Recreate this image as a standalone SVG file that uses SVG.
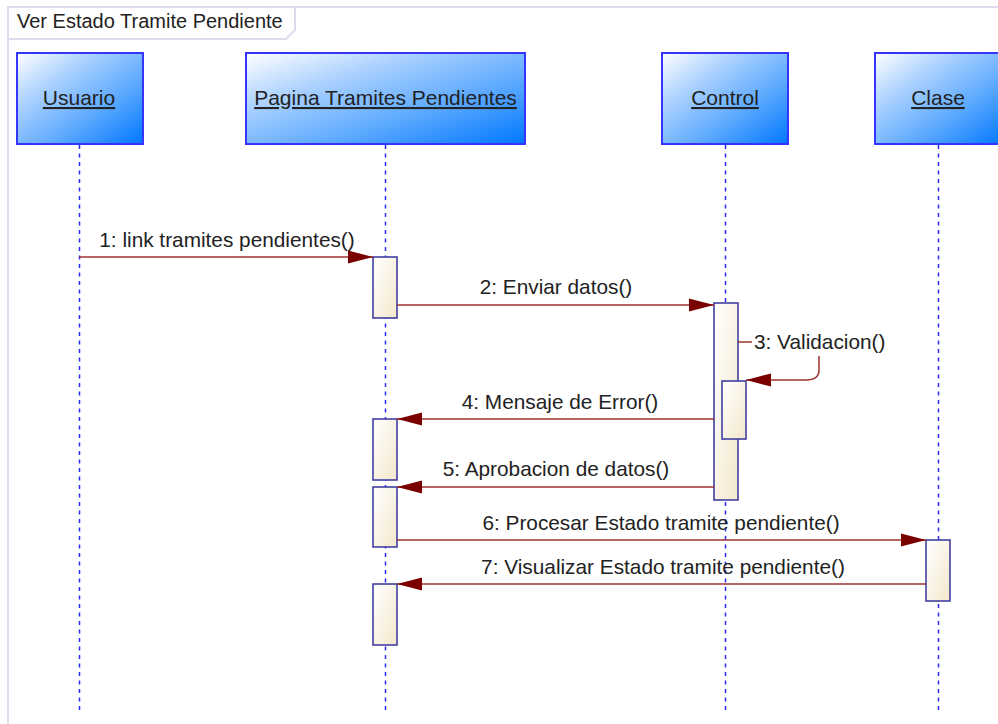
<svg xmlns="http://www.w3.org/2000/svg" width="998" height="724" viewBox="0 0 998 724">
  <defs>
    <linearGradient id="hdrFill" x1="0" y1="0" x2="1" y2="1">
      <stop offset="0" stop-color="#ffffff"/>
      <stop offset="0.3" stop-color="#acd2ff"/>
      <stop offset="0.65" stop-color="#5aa8ff"/>
      <stop offset="1" stop-color="#0077ff"/>
    </linearGradient>
    <linearGradient id="actFill" x1="0" y1="0" x2="1" y2="1">
      <stop offset="0" stop-color="#ffffff"/>
      <stop offset="1" stop-color="#f4e8cc"/>
    </linearGradient>
    <marker id="arrow" markerUnits="userSpaceOnUse" markerWidth="26" markerHeight="14" viewBox="0 0 26 14" refX="25" refY="7" orient="auto">
      <path d="M0,0.5 L25,7 L0,13.5 Z" fill="#7a0000"/>
    </marker>
    <style>
      .frame { fill: #ffffff; stroke: #dcdcee; stroke-width: 2; }
      .hdr { fill: url(#hdrFill); stroke: #3535ff; stroke-width: 2; }
      .hdrText { font-family: "Liberation Sans", Arial, sans-serif; font-size: 21px; fill: #222222; text-anchor: middle; text-decoration: underline; }
      .life { stroke: #2a2aff; stroke-width: 1.5; stroke-dasharray: 4 4.5; fill: none; }
      .act { fill: url(#actFill); stroke: #34349c; stroke-width: 1.5; }
      .msg { stroke: #a03232; stroke-width: 1.5; fill: none; }
      .lbl { font-family: "Liberation Sans", Arial, sans-serif; font-size: 20.8px; fill: #222222; text-anchor: middle; }
      .lblStart { font-family: "Liberation Sans", Arial, sans-serif; font-size: 20.8px; fill: #222222; text-anchor: start; }
      .title { font-family: "Liberation Sans", Arial, sans-serif; font-size: 20px; fill: #222222; }
    </style>
  </defs>

  <rect width="998" height="724" fill="#ffffff"/>

  <!-- frame -->
  <g id="frame">
    <path class="frame" d="M8,724 V7 H998" fill="none"/>
    <path class="frame" d="M8,7 H295 V30 L286,39 H8 Z"/>
    <text class="title" x="17" y="28">Ver Estado Tramite Pendiente</text>
  </g>

  <!-- lifelines -->
  <g id="lifelines">
    <line class="life" x1="79.5" y1="145" x2="79.5" y2="711"/>
    <line class="life" x1="385.5" y1="145" x2="385.5" y2="711"/>
    <line class="life" x1="725.5" y1="145" x2="725.5" y2="711"/>
    <line class="life" x1="938.5" y1="145" x2="938.5" y2="711"/>
  </g>

  <!-- participants -->
  <g id="usuario">
    <rect class="hdr" x="17" y="53" width="126" height="91"/>
    <text class="hdrText" x="79" y="105">Usuario</text>
  </g>
  <g id="pagina">
    <rect class="hdr" x="246" y="53" width="279" height="91"/>
    <text class="hdrText" x="385.5" y="105">Pagina Tramites Pendientes</text>
  </g>
  <g id="control">
    <rect class="hdr" x="662" y="53" width="126" height="91"/>
    <text class="hdrText" x="725" y="105">Control</text>
  </g>
  <g id="clase">
    <rect class="hdr" x="875" y="53" width="130" height="91"/>
    <text class="hdrText" x="938" y="105">Clase</text>
  </g>

  <!-- activations -->
  <g id="activations">
    <rect class="act" x="373" y="257" width="24" height="61"/>
    <rect class="act" x="714" y="303" width="24" height="197"/>
    <rect class="act" x="722" y="381" width="24" height="58"/>
    <rect class="act" x="373" y="419" width="24" height="61"/>
    <rect class="act" x="373" y="487" width="24" height="60"/>
    <rect class="act" x="926" y="540" width="24" height="61"/>
    <rect class="act" x="373" y="584" width="24" height="61"/>
  </g>

  <!-- messages -->
  <g id="connectors">
    <line class="msg" x1="79" y1="257" x2="373" y2="257" marker-end="url(#arrow)"/>
    <line class="msg" x1="397" y1="305" x2="714" y2="305" marker-end="url(#arrow)"/>
    <path class="msg" d="M738,342 H752"/>
    <path class="msg" d="M819,356 V370 Q819,380 806,380 H746" marker-end="url(#arrow)"/>
    <line class="msg" x1="714" y1="419" x2="397" y2="419" marker-end="url(#arrow)"/>
    <line class="msg" x1="714" y1="487" x2="397" y2="487" marker-end="url(#arrow)"/>
    <line class="msg" x1="397" y1="540" x2="926" y2="540" marker-end="url(#arrow)"/>
    <line class="msg" x1="926" y1="584" x2="397" y2="584" marker-end="url(#arrow)"/>
  </g>

  <!-- message labels -->
  <g id="labels">
    <text class="lbl" x="227" y="247">1: link tramites pendientes()</text>
    <text class="lbl" x="556" y="294">2: Enviar datos()</text>
    <text class="lblStart" x="754" y="349">3: Validacion()</text>
    <text class="lbl" x="560" y="409">4: Mensaje de Error()</text>
    <text class="lbl" x="556" y="476">5: Aprobacion de datos()</text>
    <text class="lbl" x="661" y="530">6: Procesar Estado tramite pendiente()</text>
    <text class="lbl" x="663" y="574">7: Visualizar Estado tramite pendiente()</text>
  </g>
</svg>
